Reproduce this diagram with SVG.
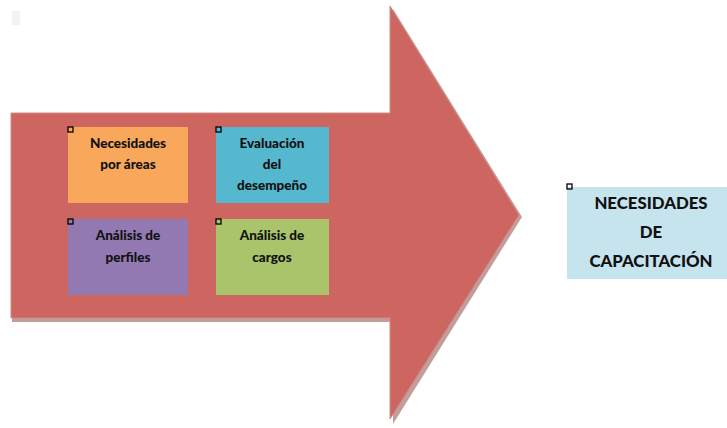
<svg xmlns="http://www.w3.org/2000/svg" width="727" height="428" viewBox="0 0 727 428">
<defs>
<style>
.t{font-family:Lato,"Open Sans","Liberation Sans",sans-serif;font-weight:900;font-size:13.5px;fill:#111;text-anchor:middle}
.T{font-family:Lato,"Open Sans","Liberation Sans",sans-serif;font-weight:900;font-size:16.8px;fill:#111;text-anchor:middle}
.h{fill:none;stroke:#000;stroke-width:1.3}
</style>
</defs>
<rect width="727" height="428" fill="#fff"/>
<rect x="12" y="11" width="8" height="14" fill="#f3f3f3"/>
<g id="arrow">
<polygon points="12,117 393,117 393,9 522,217 393,424 393,322 12,322" fill="#c19e9c"/>
<polygon points="11,113 390,113 390,6 519,215 390,419 390,318 11,318" fill="#cd6660" stroke="#d08a86" stroke-width="1"/>
</g>
<g id="n1">
<rect x="68" y="127" width="120" height="76" fill="#f9a75b"/>
<rect class="h" x="68" y="127" width="5" height="5"/>
<text class="t" x="128" y="148">Necesidades</text>
<text class="t" x="128" y="169">por áreas</text>
</g>
<g id="n2">
<rect x="216" y="127" width="113" height="76" fill="#55b8cf"/>
<rect class="h" x="216" y="127" width="5" height="5"/>
<text class="t" x="272" y="148">Evaluación</text>
<text class="t" x="272" y="169">del</text>
<text class="t" x="272" y="190">desempeño</text>
</g>
<g id="n3">
<rect x="68" y="219" width="120" height="76" fill="#9279b1"/>
<rect class="h" x="68" y="219" width="5" height="5"/>
<text class="t" x="128" y="240">Análisis de</text>
<text class="t" x="128" y="262">perfiles</text>
</g>
<g id="n4">
<rect x="216" y="219" width="113" height="76" fill="#a9c46a"/>
<rect class="h" x="216" y="219" width="5" height="5"/>
<text class="t" x="272" y="240">Análisis de</text>
<text class="t" x="272" y="262">cargos</text>
</g>
<g id="n5">
<rect x="567" y="187" width="160" height="92" fill="#c5e4ee"/>
<rect class="h" x="567" y="184" width="5" height="5"/>
<text class="T" x="651" y="209">NECESIDADES</text>
<text class="T" x="651" y="238">DE</text>
<text class="T" x="651" y="267">CAPACITACIÓN</text>
</g>
<g id="connectors"/>
</svg>
